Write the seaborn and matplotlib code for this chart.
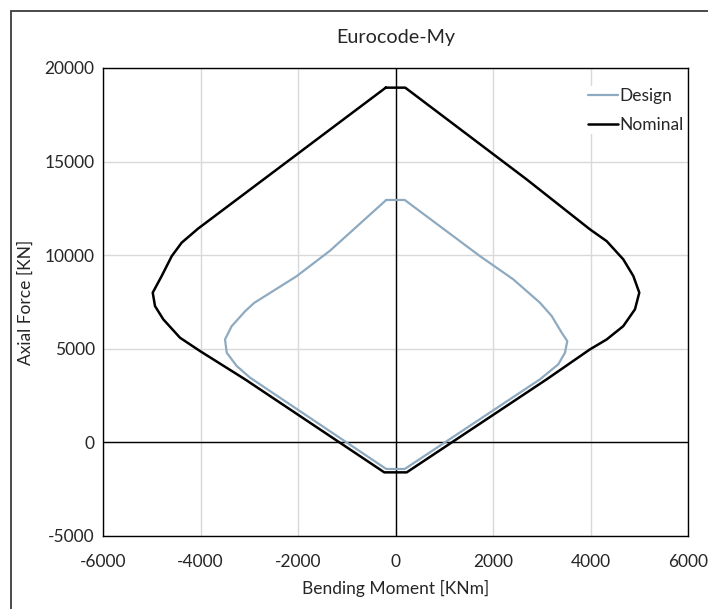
import matplotlib
matplotlib.use("Agg")
import matplotlib.pyplot as plt
from matplotlib.patches import Rectangle
import seaborn as sns
import pandas as pd

# Interaction diagram (M-N) for the section, Eurocode, about the y axis
design_m = [-190, 190, 1733, 2416, 2964, 3204, 3409, 3524, 3476, 3339, 2964, 190,
            -190, -2984, -3257, -3462, -3497, -3360, -3087, -2900, -2027, -1344, -190]
design_n = [12950, 12950, 9950, 8710, 7460, 6750, 5860, 5410, 4790, 4170, 3370, -1420,
            -1420, 3460, 4080, 4790, 5500, 6210, 7000, 7450, 8880, 10240, 12950]

nominal_m = [-200, 200, 2690, 3989, 4332, 4672, 4878, 5001, 4912, 4672, 4332, 3989, 3101, 230,
             -230, -3087, -4010, -4420, -4762, -4933, -4980, -4796, -4590, -4386, -4050, -200]
nominal_n = [18950, 18950, 14050, 11380, 10750, 9780, 8890, 8000, 7110, 6210, 5500, 4970, 3370, -1600,
             -1600, 3370, 4880, 5590, 6570, 7280, 8000, 8890, 9950, 10670, 11420, 18950]

x_ticks = [-6000, -4000, -2000, 0, 2000, 4000, 6000]
y_ticks = [-5000, 0, 5000, 10000, 15000, 20000]

design = pd.DataFrame({"M": design_m, "N": design_n})
nominal = pd.DataFrame({"M": nominal_m, "N": nominal_n})

sns.set_theme(style="white")
plt.rcParams["font.family"] = ["Lato", "DejaVu Sans"]
plt.rcParams["axes.unicode_minus"] = False

TXT = "#262626"
FS = 12.5

W, H = 708, 609
fig = plt.figure(figsize=(W / 100, H / 100), dpi=100)
ax = fig.add_axes([103 / W, 1 - 536 / H, (688 - 103) / W, (536 - 68) / H])

ax.set_xlim(-6000, 6000)
ax.set_ylim(-5000, 20000)
ax.set_xticks(x_ticks)
ax.set_yticks(y_ticks)
ax.grid(True, color="#d9d9d9", lw=1.0)
ax.set_axisbelow(True)
ax.axhline(0, color="black", lw=1.0, zorder=1.5)
ax.axvline(0, color="black", lw=1.0, zorder=1.5)

sns.lineplot(data=design, x="M", y="N", sort=False, estimator=None, ax=ax,
             color="#8eaac0", lw=1.6, label="Design", zorder=3)
sns.lineplot(data=nominal, x="M", y="N", sort=False, estimator=None, ax=ax,
             color="black", lw=1.8, label="Nominal", zorder=3)

for s in ax.spines.values():
    s.set_color("black")
    s.set_linewidth(1.0)

ax.tick_params(axis="both", length=0, labelsize=FS, colors=TXT)
ax.tick_params(axis="x", pad=13)
ax.tick_params(axis="y", pad=6)
ax.set_xlabel("Bending Moment [KNm]", fontsize=FS, color=TXT, labelpad=7)
ax.set_ylabel("Axial Force [KN]", fontsize=FS, color=TXT, labelpad=8)
fig.text(396 / W, 1 - 37 / H, "Eurocode-My", ha="center", va="center",
         fontsize=14.2, color=TXT)

leg = ax.legend(loc="upper left", bbox_to_anchor=(586 / W, 1 - 86 / H),
                bbox_transform=fig.transFigure, frameon=True, fontsize=FS,
                borderpad=0.1, handlelength=1.75, handletextpad=0.1,
                labelspacing=0.75, borderaxespad=0)
leg.get_frame().set_facecolor("white")
leg.get_frame().set_edgecolor("none")
leg.get_frame().set_alpha(1.0)
for t in leg.get_texts():
    t.set_color(TXT)

# chart area border
fig.add_artist(Rectangle((10.5 / W, -0.1), 1.2, 1 - 11 / H + 0.1,
                         transform=fig.transFigure, fill=False,
                         ec="#3c3c3c", lw=1.3))

fig.savefig("out.png", dpi=100)
